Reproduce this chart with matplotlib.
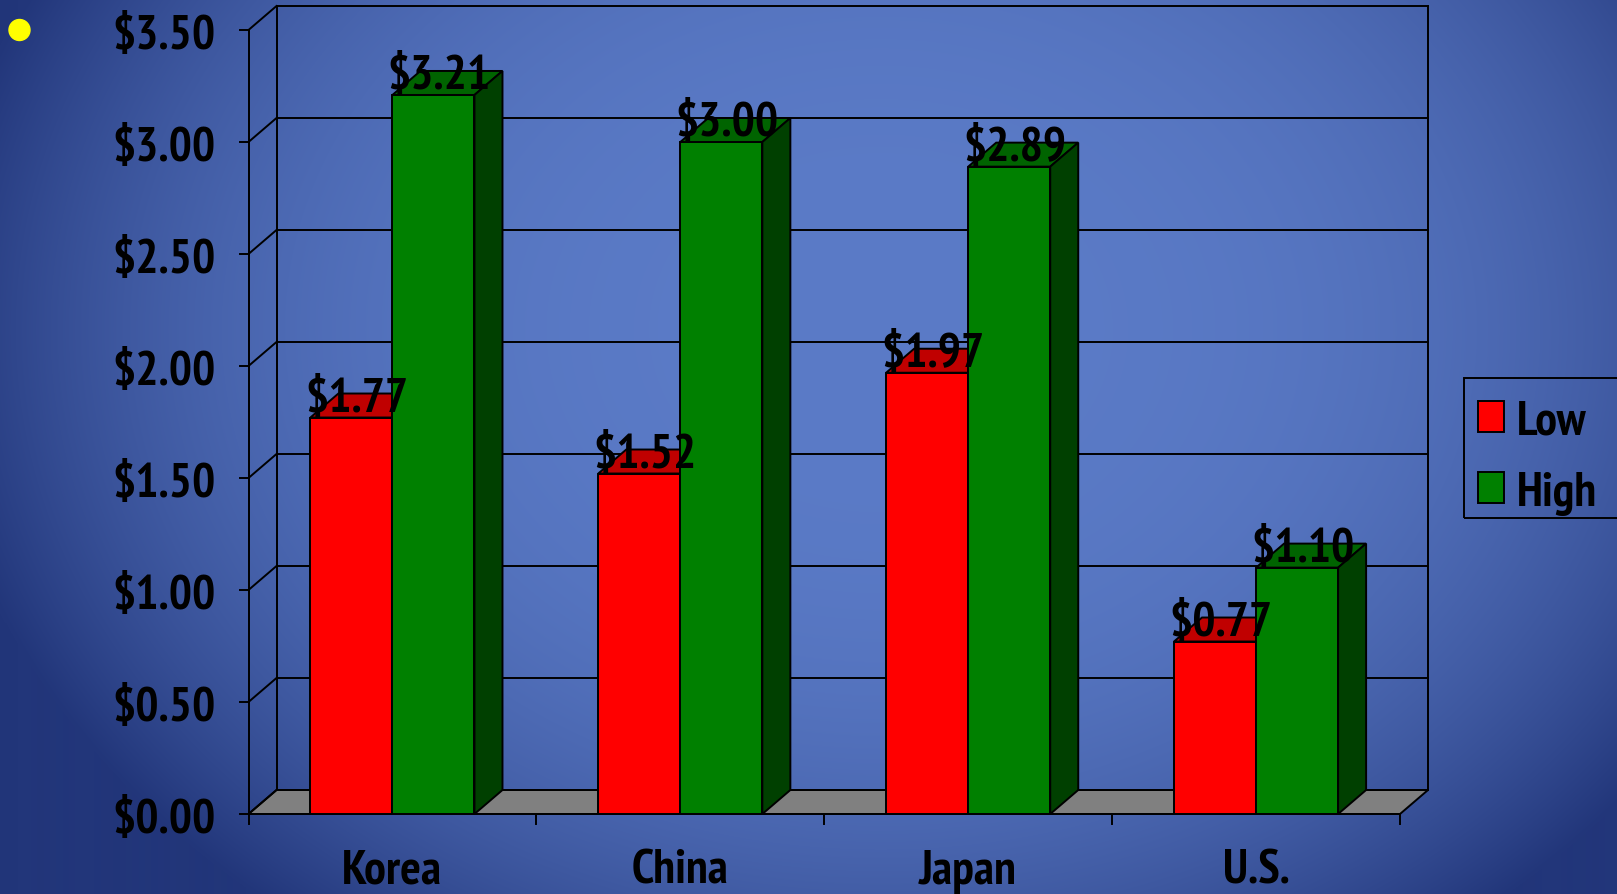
import numpy as np
import matplotlib
matplotlib.use("Agg")
import matplotlib.pyplot as plt
from matplotlib import font_manager
from matplotlib.patches import Polygon, Rectangle, Ellipse

# --- data ---
categories = ["Korea", "China", "Japan", "U.S."]
series_names = ["Low", "High"]
low_vals = [1.77, 1.52, 1.97, 0.77]
high_vals = [3.21, 3.00, 2.89, 1.10]
y_ticks = [0.0, 0.5, 1.0, 1.5, 2.0, 2.5, 3.0, 3.5]
y_tick_labels = ["$0.00", "$0.50", "$1.00", "$1.50", "$2.00", "$2.50", "$3.00", "$3.50"]

# --- style ---
W, H = 1617, 895
LW = 1.4
front_cols = ["#ff0000", "#008000"]
top_cols = ["#c00000", "#006400"]
side_cols = ["#800000", "#004000"]

# pick a narrow bold face (Arial Narrow look) if one is installed
candidates = ["Liberation Sans Narrow", "Arial Narrow", "PT Sans Narrow",
              "Roboto Condensed", "Archivo Narrow", "Open Sans Condensed"]
bold_names = {f.name for f in font_manager.fontManager.ttflist
              if (f.weight if isinstance(f.weight, int) else 400) >= 600
              or f.weight == "bold"}
narrow = [c for c in candidates if c in bold_names]
FONT = (narrow[:1] if narrow else []) + ["Liberation Sans", "DejaVu Sans"]
FS = 35 if narrow else 30

fig = plt.figure(figsize=(W / 100, H / 100), dpi=100)

# background gradient (light centre, dark navy edges)
bg = fig.add_axes([0, 0, 1, 1])
yy, xx = np.mgrid[0:H, 0:W]
d = np.sqrt(((xx - 880) / 950.0) ** 2 + ((yy - 330) / 750.0) ** 2)
f = np.clip(d, 0, 1) ** 3
light = np.array([0x5b, 0x7b, 0xc7]) / 255.0
dark = np.array([0x22, 0x36, 0x7a]) / 255.0
img = light[None, None, :] * (1 - f[..., None]) + dark[None, None, :] * f[..., None]
bg.imshow(img, aspect="auto", extent=(0, 1, 0, 1), origin="upper")
bg.set_axis_off()

# yellow bullet
fig.patches.append(Ellipse((19.5 / W, 1 - 31 / H), 21 / W, 21 / H,
                           transform=fig.transFigure, color="#ffff00"))

# main plot area = front plane of the 3D box
x0, x1, yb, yt = 248.5, 1400, 815, 31
ax = fig.add_axes([x0 / W, 1 - yb / H, (x1 - x0) / W, (yb - yt) / H])
ax.patch.set_alpha(0)
ncat = len(categories)
ax.set_xlim(0, ncat)
ax.set_ylim(0, 3.5)
ax.set_axis_off()

# depth offset in data units
dx = 28 / ((x1 - x0) / ncat)
dy = 24 / ((yb - yt) / 3.5)
kw = dict(clip_on=False)

# floor
ax.add_patch(Polygon([(0, 0), (ncat, 0), (ncat + dx, dy), (dx, dy)], closed=True,
                     facecolor="#808080", edgecolor="black", lw=LW, **kw))

# back wall gridlines + left side diagonals + ticks
for v in y_ticks:
    ax.plot([dx, ncat + dx], [v + dy, v + dy], color="black", lw=LW, **kw)
    ax.plot([0, dx], [v, v + dy], color="black", lw=LW, **kw)
    ax.plot([-0.03, 0], [v, v], color="black", lw=LW, **kw)
ax.plot([dx, dx], [dy, 3.5 + dy], color="black", lw=LW, **kw)
ax.plot([ncat + dx, ncat + dx], [dy, 3.5 + dy], color="black", lw=LW, **kw)
ax.plot([0, 0], [0, 3.5], color="black", lw=LW, **kw)
ax.plot([0, ncat], [0, 0], color="black", lw=LW, **kw)
for i in range(ncat + 1):
    ax.plot([i, i], [0, -0.045], color="black", lw=LW, **kw)

# tick labels
for v, lab in zip(y_ticks, y_tick_labels):
    ax.annotate(lab, (0, v), xytext=(-23.5, -13), textcoords="offset points",
                ha="right", va="baseline", fontsize=FS, fontweight="bold",
                family=FONT, color="black", annotation_clip=False)
for i, c in enumerate(categories):
    ax.annotate(c, (i + 0.5, 0), xytext=(0, -49.5), textcoords="offset points",
                ha="center", va="baseline", fontsize=FS, fontweight="bold",
                family=FONT, color="black", annotation_clip=False)

# 3D bars
bw = 0.285
x_pos = np.arange(ncat) + 0.5
for s, vals in enumerate([low_vals, high_vals]):
    lefts = x_pos - bw + s * bw
    ax.bar(lefts, vals, width=bw, align="edge", color=front_cols[s],
           edgecolor="black", lw=LW, zorder=3 + s, **kw)
    for xl, v in zip(lefts, vals):
        xr = xl + bw
        ax.add_patch(Polygon([(xl, v), (xr, v), (xr + dx, v + dy), (xl + dx, v + dy)],
                             closed=True, facecolor=top_cols[s], edgecolor="black",
                             lw=LW, zorder=3 + s, **kw))
        ax.add_patch(Polygon([(xr, 0), (xr, v), (xr + dx, v + dy), (xr + dx, dy)],
                             closed=True, facecolor=side_cols[s], edgecolor="black",
                             lw=LW, zorder=3 + s, **kw))
        ax.annotate(f"${v:.2f}", (xl + bw / 2, v), xytext=(4, 5),
                    textcoords="offset points", ha="center", va="baseline",
                    fontsize=FS, fontweight="bold", family=FONT, color="black",
                    zorder=10, annotation_clip=False)

# legend box (runs off the right edge)
fig.patches.append(Rectangle((1464 / W, 1 - 519 / H), 170 / W, 140 / H,
                             transform=fig.transFigure, facecolor="none",
                             edgecolor="black", lw=LW))
for s, name in enumerate(series_names):
    top = 402 + s * 71
    fig.patches.append(Rectangle((1478 / W, 1 - (top + 31) / H), 26 / W, 31 / H,
                                 transform=fig.transFigure, facecolor=front_cols[s],
                                 edgecolor="black", lw=LW))
    fig.text(1517 / W, 1 - (top + 33) / H, name, ha="left", va="baseline",
             fontsize=FS, fontweight="bold", family=FONT, color="black")

fig.savefig("out.png", dpi=100)
